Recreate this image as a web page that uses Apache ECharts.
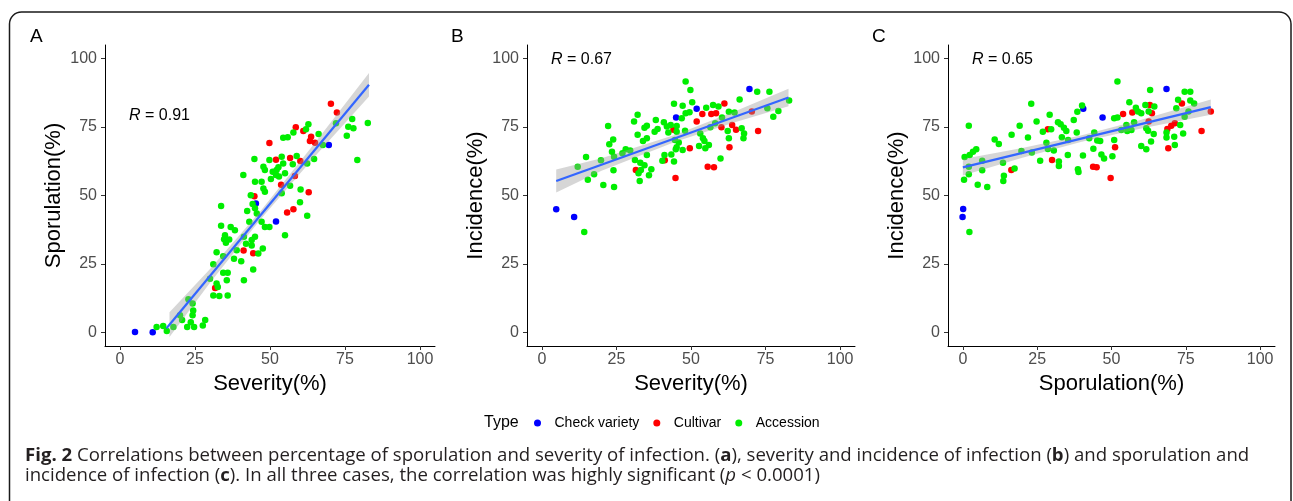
<!DOCTYPE html>
<html>
<head>
<meta charset="utf-8">
<script src="https://cdn.jsdelivr.net/npm/echarts@6/dist/echarts.min.js"></script>
<style>html,body{margin:0;padding:0;background:#fff;}#c{width:1293px;height:501px;}</style>
</head>
<body>
<div id="c"></div>
<script>
// ---------- DATA ----------
const typeNames = ['Check variety', 'Cultivar', 'Accession'];
const axisTicks = [0, 25, 50, 75, 100];

// Panel A: Severity (x) vs Sporulation (y)
const A_check = [[5.0,0.1],[10.9,0],[45.3,47.1],[52.0,40.5],[69.6,68.5]];
const A_cultivar = [[70.3,83.5],[72.3,80.3],[58.6,74.9],[61.1,73.6],[49.8,69.2],[63.7,71.5],[63.3,69.9],[65.0,69.3],[52.0,63.1],[56.7,63.7],[60.1,62.6],[58.3,57.1],[53.7,53.9],[62.9,51.2],[44.8,49.7],[57.8,45.0],[55.7,43.8],[41.2,29.9],[44.4,28.9],[31.7,16.2]];
const A_accession = [[12.2,1.9],[14.4,2.3],[15.6,0.5],[17.8,1.9],[20.0,6.2],[20.7,4.5],[22.8,12.1],[24.2,10.5],[24.4,8.0],[24.2,6.2],[22.4,1.9],[24.7,1.9],[23.6,3.7],[27.6,2.5],[28.4,4.5],[30.0,19.6],[31.1,24.9],[32.2,29.3],[32.2,17.8],[32.6,16.6],[31.1,13.5],[33.1,13.3],[35.9,13.5],[33.7,46.2],[33.7,38.9],[35.0,35.5],[34.7,34.0],[35.3,32.7],[36.9,38.5],[38.3,37.3],[36.4,33.9],[38.9,30.0],[34.4,27.8],[38.0,26.9],[40.4,26.0],[34.4,21.8],[35.9,21.8],[35.6,19.0],[41.3,19.0],[44.4,23.0],[41.1,57.5],[43.6,50.1],[42.4,44.3],[44.2,46.9],[45.0,45.3],[45.6,43.4],[43.1,40.4],[41.3,34.9],[42.0,32.4],[43.9,33.7],[45.0,34.9],[43.9,31.7],[46.1,28.8],[47.6,30.6],[47.2,40.4],[48.3,38.5],[49.8,38.5],[44.8,63.3],[45.0,55.0],[47.2,55.0],[47.8,60.5],[48.3,59.3],[50.3,56.0],[47.8,52.6],[49.8,63.0],[48.3,51.4],[50.9,58.7],[52.2,59.3],[52.8,60.3],[53.9,64.2],[54.4,61.7],[52.0,57.5],[53.0,56.9],[53.9,50.8],[55.0,58.1],[54.4,71.1],[55.9,71.3],[57.8,73.0],[57.6,61.4],[58.9,64.4],[56.7,53.6],[60.2,52.2],[60.0,47.5],[55.0,35.5],[62.4,42.6],[62.4,61.7],[64.7,63.3],[62.0,74.2],[62.8,76.0],[66.2,72.5],[67.6,68.5],[72.0,76.4],[75.6,71.8],[76.1,75.1],[77.8,74.6],[77.4,78.0],[79.1,63.0],[82.6,76.5]];
const A_fitLine = [[15.5,1.5],[83.0,90.5]];
const A_band = [[16.5,-1.7,7.3],[30,18.1,23.1],[47,41.5,44.5],[65,64.3,69.3],[83,86.2,94.8]];
const A_r = '0.91';

// Panel B: Severity (x) vs Incidence (y)
const B_check = [[4.8,45.0],[10.8,42.1],[45.0,78.5],[51.9,81.7],[69.6,88.9]];
const B_cultivar = [[61.2,83.6],[53.8,79.8],[56.8,79.8],[58.4,80.1],[51.9,77.0],[70.4,80.7],[60.2,74.9],[63.8,75.8],[65.1,74.0],[72.5,73.6],[44.1,74.0],[49.6,67.3],[62.9,67.6],[41.2,62.9],[31.5,59.3],[55.6,60.5],[57.7,60.3],[44.8,56.4]];
const B_accession = [[48.2,91.7],[49.8,88.6],[44.3,83.5],[47.2,82.8],[50.4,84.1],[48.2,80.1],[49.5,80.4],[46.9,78.2],[55.1,82.1],[57.4,83.1],[59.2,82.5],[66.3,85.1],[72.2,87.9],[76.3,87.9],[75.6,81.9],[79.3,80.9],[77.6,78.8],[82.9,84.7],[62.7,80.6],[64.6,80.3],[60.4,78.5],[58.1,76.4],[56.5,74.9],[62.3,73.6],[62.7,70.9],[67.0,74.6],[67.8,72.7],[67.6,70.9],[53.1,72.7],[54.0,70.9],[54.5,69.9],[56.0,68.5],[54.8,67.3],[52.7,68.1],[59.9,63.5],[32.1,79.5],[30.9,77.0],[38.2,77.6],[40.9,76.8],[35.2,75.5],[34.4,74.8],[38.8,74.3],[37.8,73.3],[41.9,75.2],[43.2,75.8],[42.4,73.0],[45.2,75.4],[45.2,73.3],[48.0,73.7],[32.1,72.2],[35.2,70.9],[33.9,69.9],[44.6,70.3],[45.9,69.4],[45.2,67.6],[44.9,66.9],[47.2,66.6],[43.4,65.0],[41.1,64.8],[44.3,62.4],[40.4,62.7],[35.2,64.8],[22.2,75.4],[23.9,70.5],[22.6,68.7],[23.5,66.0],[24.2,64.2],[28.1,66.9],[27.0,65.4],[29.6,66.4],[31.2,63.0],[33.0,62.0],[34.4,61.1],[33.2,59.3],[32.4,58.1],[35.9,57.4],[36.7,59.6],[32.8,55.3],[14.8,64.1],[12.0,60.5],[19.8,62.9],[17.5,57.8],[15.4,55.8],[20.6,53.8],[24.2,53.1],[24.0,59.2],[14.2,36.7]];
const B_fitLine = [[4.8,55.3],[82.7,85.8]];
const B_band = [[4.8,51.1,59.5],[20,59.0,63.6],[45,69.7,72.3],[65,76.9,80.9],[82.7,82.6,89.0]];
const B_r = '0.67';

// Panel C: Sporulation (x) vs Incidence (y)
const C_check = [[0.1,45.1],[-0.1,42.1],[40.5,81.7],[47.0,78.5],[68.5,88.9]];
const C_cultivar = [[73.7,83.6],[53.9,79.8],[57.0,80.3],[63.6,80.1],[62.9,83.1],[62.5,77.0],[83.4,80.7],[80.3,73.6],[71.3,76.4],[70.1,75.5],[68.8,74.3],[28.6,74.2],[51.2,67.6],[69.1,67.3],[30.0,63.0],[16.3,59.3],[43.8,60.5],[45.0,60.3],[49.7,56.4]];
const C_accession = [[52.0,91.7],[63.0,88.6],[74.6,87.9],[76.5,87.9],[72.4,85.0],[76.5,84.7],[77.8,83.6],[71.8,81.9],[74.6,78.8],[75.9,80.7],[73.1,75.8],[74.1,72.7],[71.1,71.5],[71.3,68.5],[68.5,73.0],[68.5,71.2],[56.0,84.1],[58.2,82.1],[58.9,80.7],[60.0,80.1],[61.4,83.1],[64.4,82.5],[62.5,80.7],[50.9,78.2],[52.0,78.5],[57.6,76.8],[55.0,75.8],[53.3,73.9],[55.3,73.6],[56.7,73.9],[61.7,74.6],[62.3,73.7],[64.2,72.5],[63.3,69.7],[60.0,68.1],[61.7,66.9],[50.9,70.3],[50.3,64.3],[23.0,83.5],[40.1,82.9],[38.5,80.6],[37.3,77.6],[29.2,79.5],[24.8,77.0],[32.0,76.8],[32.9,76.0],[34.0,74.8],[34.8,73.6],[29.7,74.2],[26.9,73.3],[38.3,73.0],[44.2,73.0],[42.5,70.9],[45.2,70.1],[46.2,69.9],[33.3,71.3],[35.4,70.3],[28.1,69.3],[28.6,67.0],[30.6,66.4],[21.9,71.2],[19.1,75.5],[16.4,72.2],[10.7,70.5],[12.1,68.8],[19.7,66.3],[23.2,65.7],[26.0,62.7],[32.3,62.4],[32.3,60.8],[35.3,64.8],[40.4,64.6],[43.9,67.1],[46.6,65.0],[47.5,63.5],[38.7,59.6],[38.9,58.6],[2.0,75.5],[0.6,64.1],[2.3,64.8],[3.4,66.0],[4.5,66.9],[2.0,60.5],[2.0,57.8],[0.4,55.8],[6.5,62.7],[6.5,59.2],[5.0,53.9],[8.2,53.1],[13.5,62.0],[13.8,57.2],[13.6,55.3],[17.4,59.9],[2.2,36.7]];
const C_fitLine = [[0.0,60.3],[83.4,82.3]];
const C_band = [[0,57.3,63.3],[20,63.8,67.4],[40,69.6,72.0],[60,74.5,77.7],[83.4,79.5,85.1]];
const C_r = '0.65';

const panelLetters = ['A', 'B', 'C'];
const xTitles = ['Severity(%)', 'Severity(%)', 'Sporulation(%)'];
const yTitles = ['Sporulation(%)', 'Incidence(%)', 'Incidence(%)'];

// ---------- STYLE ----------
const FONT = '"Liberation Sans", Arial, sans-serif';
const CAP_FONT = '"Open Sans", "Noto Sans", sans-serif';
const CAP_SIZE = 18.6;
const typeColors = ['#0000FF', '#FF0000', '#00EE00'];

const panels = [
  { check: A_check, cultivar: A_cultivar, accession: A_accession, line: A_fitLine, band: A_band, r: A_r },
  { check: B_check, cultivar: B_cultivar, accession: B_accession, line: B_fitLine, band: B_band, r: B_r },
  { check: C_check, cultivar: C_cultivar, accession: C_accession, line: C_fitLine, band: C_band, r: C_r }
];

const grids = [
  { left: 105, top: 45, width: 330, height: 301 },
  { left: 527, top: 45, width: 328, height: 301 },
  { left: 948, top: 45, width: 327, height: 301 }
];

function makeX(i) {
  return {
    type: 'value', gridIndex: i, min: -5, max: 105,
    name: xTitles[i], nameLocation: 'middle', nameGap: 24,
    nameTextStyle: { fontSize: 22, color: '#000', fontFamily: FONT },
    axisLine: { show: true, onZero: false, lineStyle: { color: '#000', width: 1 } },
    axisTick: { show: true, length: 4, customValues: axisTicks, lineStyle: { color: '#333' } },
    axisLabel: { customValues: axisTicks, fontSize: 16, color: '#4d4d4d', margin: 6, fontFamily: FONT },
    splitLine: { show: false }
  };
}
function makeY(i) {
  return {
    type: 'value', gridIndex: i, min: -5, max: 105,
    name: yTitles[i], nameLocation: 'middle', nameGap: 40,
    nameTextStyle: { fontSize: 22, color: '#000', fontFamily: FONT },
    axisLine: { show: true, onZero: false, lineStyle: { color: '#000', width: 1 } },
    axisTick: { show: true, length: 4, customValues: axisTicks, lineStyle: { color: '#333' } },
    axisLabel: { customValues: axisTicks, fontSize: 16, color: '#4d4d4d', margin: 8, fontFamily: FONT },
    splitLine: { show: false }
  };
}

function bandRender(band) {
  return function (params, api) {
    if (params.dataIndex !== 0) return null;
    const upper = band.map(function (r) { return api.coord([r[0], r[2]]); });
    const lower = band.slice().reverse().map(function (r) { return api.coord([r[0], r[1]]); });
    return {
      type: 'polygon',
      shape: { points: upper.concat(lower) },
      style: { fill: 'rgba(153,153,153,0.4)', stroke: null }
    };
  };
}

const series = [];
panels.forEach(function (p, i) {
  const groups = [p.check, p.cultivar, p.accession];
  groups.forEach(function (g, k) {
    series.push({
      type: 'scatter', name: typeNames[k], xAxisIndex: i, yAxisIndex: i,
      data: g, symbol: 'circle', symbolSize: 6.5,
      itemStyle: { color: typeColors[k], opacity: 1 },
      z: 2, silent: true
    });
  });
  series.push({
    type: 'custom', xAxisIndex: i, yAxisIndex: i, data: p.band,
    encode: { x: 0, y: [1, 2] }, renderItem: bandRender(p.band), z: 3, silent: true, clip: true
  });
  series.push({
    type: 'line', xAxisIndex: i, yAxisIndex: i, data: p.line,
    symbol: 'none', lineStyle: { color: '#3366FF', width: 2.2 }, z: 4, silent: true
  });
});

const rPos = [[129, 116], [551, 60], [972, 60]];
const letterPos = [[30, 37], [451, 37], [872, 37]];

const capRich = {
  b: { fontWeight: 'bold', fontSize: CAP_SIZE, fontFamily: CAP_FONT, fill: '#231f20' },
  i: { fontStyle: 'italic', fontSize: CAP_SIZE, fontFamily: CAP_FONT, fill: '#231f20' }
};

const graphics = [
  { type: 'rect', shape: { x: 9.5, y: 12, width: 1281.5, height: 560, r: 12 },
    style: { fill: 'none', stroke: '#1a1a1a', lineWidth: 1.5 }, silent: true },
  { type: 'text', x: 484, y: 423,
    style: { text: 'Type', font: '16px ' + FONT, fill: '#000', verticalAlign: 'middle' } },
  { type: 'text', x: 25, y: 456,
    style: {
      text: '{b|Fig. 2} Correlations between percentage of sporulation and severity of infection. ({b|a}), severity and incidence of infection ({b|b}) and sporulation and',
      font: CAP_SIZE + 'px ' + CAP_FONT, fill: '#231f20', verticalAlign: 'middle', rich: capRich
    } },
  { type: 'text', x: 25, y: 476,
    style: {
      text: 'incidence of infection ({b|c}). In all three cases, the correlation was highly significant ({i|p} < 0.0001)',
      font: CAP_SIZE + 'px ' + CAP_FONT, fill: '#231f20', verticalAlign: 'middle', rich: capRich
    } }
];
panelLetters.forEach(function (L, i) {
  graphics.push({ type: 'text', x: letterPos[i][0], y: letterPos[i][1],
    style: { text: L, font: '19px ' + FONT, fill: '#000', verticalAlign: 'middle' } });
  graphics.push({ type: 'text', x: rPos[i][0], y: rPos[i][1],
    style: { text: '{i|R} = ' + panels[i].r, font: '16px ' + FONT, fill: '#000', verticalAlign: 'middle',
      rich: { i: { fontStyle: 'italic', fontSize: 16, fontFamily: FONT, fill: '#000' } } } });
});

const chart = echarts.init(document.getElementById('c'), null, { renderer: 'canvas' });
chart.setOption({
  animation: false,
  backgroundColor: '#fff',
  grid: grids,
  xAxis: [makeX(0), makeX(1), makeX(2)],
  yAxis: [makeY(0), makeY(1), makeY(2)],
  legend: {
    data: typeNames, left: 529, top: 411, orient: 'horizontal',
    icon: 'circle', itemWidth: 24, itemHeight: 7, itemGap: 14,
    textStyle: { fontSize: 14, color: '#000', fontFamily: FONT },
    selectedMode: false
  },
  series: series,
  graphic: graphics
});
</script>
</body>
</html>
